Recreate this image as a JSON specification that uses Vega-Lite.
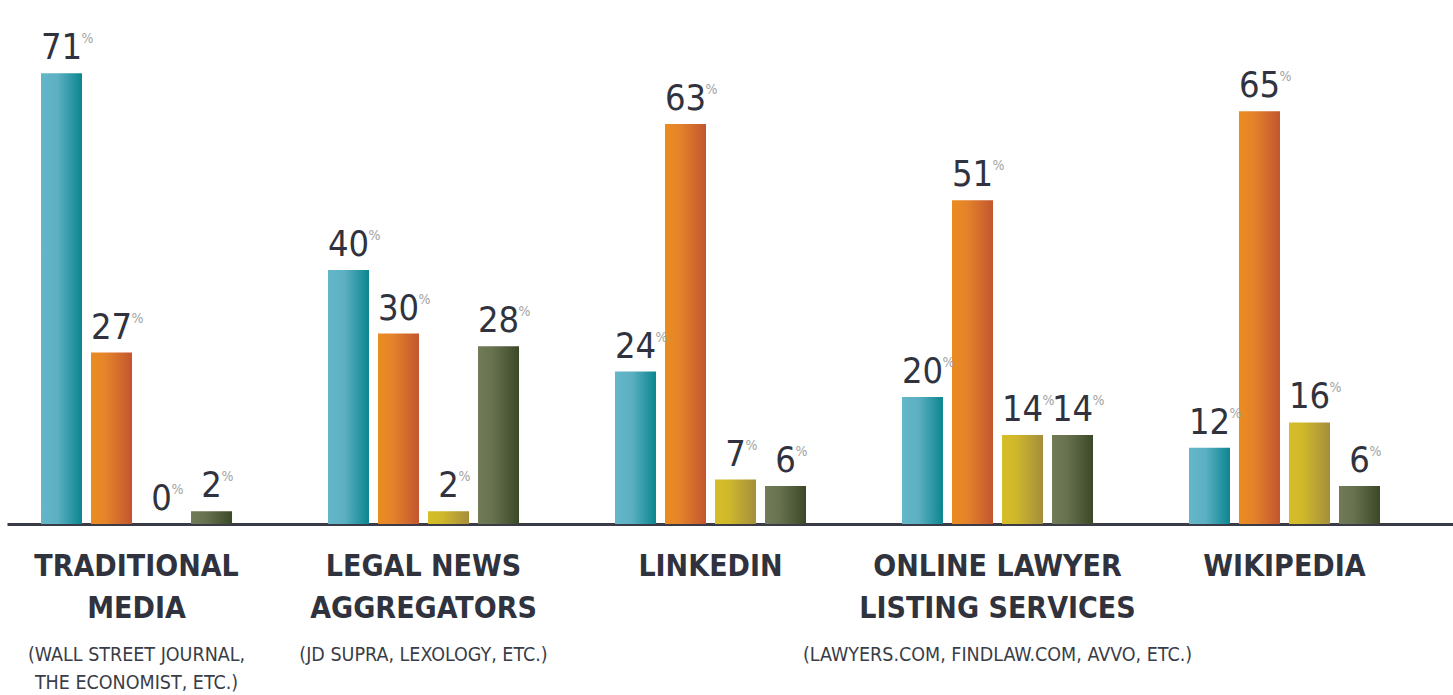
{
  "$schema": "https://vega.github.io/schema/vega-lite/v6.json",
  "autosize": {"type": "none"},
  "width": 1446,
  "height": 508,
  "padding": {"left": 7, "top": 16, "right": 0, "bottom": 171},
  "background": "#ffffff",
  "config": {"view": {"stroke": null}},
  "data": {"values": [
    {"source": "TRADITIONAL MEDIA", "series": "s1", "value": 71},
    {"source": "TRADITIONAL MEDIA", "series": "s2", "value": 27},
    {"source": "TRADITIONAL MEDIA", "series": "s3", "value": 0},
    {"source": "TRADITIONAL MEDIA", "series": "s4", "value": 2},
    {"source": "LEGAL NEWS AGGREGATORS", "series": "s1", "value": 40},
    {"source": "LEGAL NEWS AGGREGATORS", "series": "s2", "value": 30},
    {"source": "LEGAL NEWS AGGREGATORS", "series": "s3", "value": 2},
    {"source": "LEGAL NEWS AGGREGATORS", "series": "s4", "value": 28},
    {"source": "LINKEDIN", "series": "s1", "value": 24},
    {"source": "LINKEDIN", "series": "s2", "value": 63},
    {"source": "LINKEDIN", "series": "s3", "value": 7},
    {"source": "LINKEDIN", "series": "s4", "value": 6},
    {"source": "ONLINE LAWYER LISTING SERVICES", "series": "s1", "value": 20},
    {"source": "ONLINE LAWYER LISTING SERVICES", "series": "s2", "value": 51},
    {"source": "ONLINE LAWYER LISTING SERVICES", "series": "s3", "value": 14},
    {"source": "ONLINE LAWYER LISTING SERVICES", "series": "s4", "value": 14},
    {"source": "WIKIPEDIA", "series": "s1", "value": 12},
    {"source": "WIKIPEDIA", "series": "s2", "value": 65},
    {"source": "WIKIPEDIA", "series": "s3", "value": 16},
    {"source": "WIKIPEDIA", "series": "s4", "value": 6}
  ]},
  "encoding": {
    "x": {"field": "source", "type": "nominal", "sort": null,
      "scale": {"paddingInner": 0.303, "paddingOuter": 0.1707, "align": 0.301}},
    "xOffset": {"field": "series", "type": "nominal",
      "scale": {"domain": ["s1", "s2", "s3", "s4"], "paddingInner": 0.18, "paddingOuter": 0.09}},
    "y": {"field": "value", "type": "quantitative", "scale": {"domain": [0, 80]}}
  },
  "layer": [
    {
      "transform": [{"filter": "datum.series == 's1'"}],
      "mark": {"type": "bar", "stroke": null, "fill": {"gradient": "linear", "x1": 0, "y1": 0, "x2": 1, "y2": 0,
        "stops": [{"offset": 0, "color": "#64b7c9"}, {"offset": 0.4, "color": "#5cb0c2"}, {"offset": 1, "color": "#0b8590"}]}},
      "encoding": {
        "x": {"field": "source", "type": "nominal", "sort": null,
          "axis": {"title": null, "orient": "bottom", "domain": true, "domainColor": "#393c46", "domainWidth": 3,
            "ticks": false, "grid": false, "labelAngle": 0, "labelPadding": 27, "labelBaseline": "top",
            "labelFont": "DejaVu Sans Condensed, sans-serif", "labelFontWeight": "bold",
            "labelFontSize": 30, "labelLineHeight": 42, "labelColor": "#30333e", "labelLimit": 400,
            "labelExpr": "datum.value == 'TRADITIONAL MEDIA' ? ['TRADITIONAL', 'MEDIA'] : datum.value == 'LEGAL NEWS AGGREGATORS' ? ['LEGAL NEWS', 'AGGREGATORS'] : datum.value == 'ONLINE LAWYER LISTING SERVICES' ? ['ONLINE LAWYER', 'LISTING SERVICES'] : datum.value"}},
        "y": {"field": "value", "type": "quantitative",
          "axis": {"title": null, "values": [10, 20, 30, 40, 50, 60, 70, 80], "labels": false, "ticks": false, "domain": false,
            "grid": true, "gridColor": "#ebebeb", "gridWidth": 1.5}}
      }
    },
    {
      "transform": [{"filter": "datum.series == 's2'"}],
      "mark": {"type": "bar", "stroke": null, "fill": {"gradient": "linear", "x1": 0, "y1": 0, "x2": 1, "y2": 0,
        "stops": [{"offset": 0, "color": "#eb8c20"}, {"offset": 0.35, "color": "#e4842a"}, {"offset": 1, "color": "#c3552f"}]}},
      "encoding": {
        "x": {"field": "source", "type": "nominal", "sort": null,
          "axis": {"title": null, "orient": "bottom", "domain": false, "ticks": false, "grid": false, "labelAngle": 0,
            "labelPadding": 121, "labelBaseline": "top",
            "labelFont": "DejaVu Sans Condensed, sans-serif", "labelFontWeight": "normal",
            "labelFontSize": 19.5, "labelLineHeight": 28, "labelColor": "#3a3d47", "labelLimit": 500,
            "labelExpr": "datum.value == 'TRADITIONAL MEDIA' ? ['(WALL STREET JOURNAL,', 'THE ECONOMIST, ETC.)'] : datum.value == 'LEGAL NEWS AGGREGATORS' ? '(JD SUPRA, LEXOLOGY, ETC.)' : datum.value == 'ONLINE LAWYER LISTING SERVICES' ? '(LAWYERS.COM, FINDLAW.COM, AVVO, ETC.)' : ''"}},
        "y": {"field": "value", "type": "quantitative", "axis": null}
      }
    },
    {
      "transform": [{"filter": "datum.series == 's3'"}],
      "mark": {"type": "bar", "stroke": null, "fill": {"gradient": "linear", "x1": 0, "y1": 0, "x2": 1, "y2": 0,
        "stops": [{"offset": 0, "color": "#d6be27"}, {"offset": 0.35, "color": "#cfb72b"}, {"offset": 1, "color": "#a48e3c"}]}},
      "encoding": {
        "x": {"field": "source", "type": "nominal", "sort": null, "axis": null},
        "y": {"field": "value", "type": "quantitative", "axis": null}
      }
    },
    {
      "transform": [{"filter": "datum.series == 's4'"}],
      "mark": {"type": "bar", "stroke": null, "fill": {"gradient": "linear", "x1": 0, "y1": 0, "x2": 1, "y2": 0,
        "stops": [{"offset": 0, "color": "#717b57"}, {"offset": 0.35, "color": "#68724f"}, {"offset": 1, "color": "#3b4827"}]}},
      "encoding": {
        "x": {"field": "source", "type": "nominal", "sort": null, "axis": null},
        "y": {"field": "value", "type": "quantitative", "axis": null}
      }
    },
    {
      "mark": {"type": "text", "baseline": "alphabetic", "align": "center", "dy": -14,
        "font": "DejaVu Sans Condensed, sans-serif", "fontSize": 36, "color": "#30333e"},
      "encoding": {
        "x": {"field": "source", "type": "nominal", "sort": null, "axis": null},
        "y": {"field": "value", "type": "quantitative", "axis": null},
        "text": {"field": "value", "type": "quantitative"}
      }
    },
    {
      "transform": [{"filter": "datum.value >= 10"}],
      "mark": {"type": "text", "baseline": "alphabetic", "align": "left", "dy": -30, "dx": 20,
        "font": "DejaVu Sans Condensed, sans-serif", "fontSize": 14, "color": "#a3a3a3"},
      "encoding": {
        "x": {"field": "source", "type": "nominal", "sort": null, "axis": null},
        "y": {"field": "value", "type": "quantitative", "axis": null},
        "text": {"value": "%"}
      }
    },
    {
      "transform": [{"filter": "datum.value < 10"}],
      "mark": {"type": "text", "baseline": "alphabetic", "align": "left", "dy": -30, "dx": 10,
        "font": "DejaVu Sans Condensed, sans-serif", "fontSize": 14, "color": "#a3a3a3"},
      "encoding": {
        "x": {"field": "source", "type": "nominal", "sort": null, "axis": null},
        "y": {"field": "value", "type": "quantitative", "axis": null},
        "text": {"value": "%"}
      }
    }
  ],
  "resolve": {"axis": {"x": "independent"}}
}
